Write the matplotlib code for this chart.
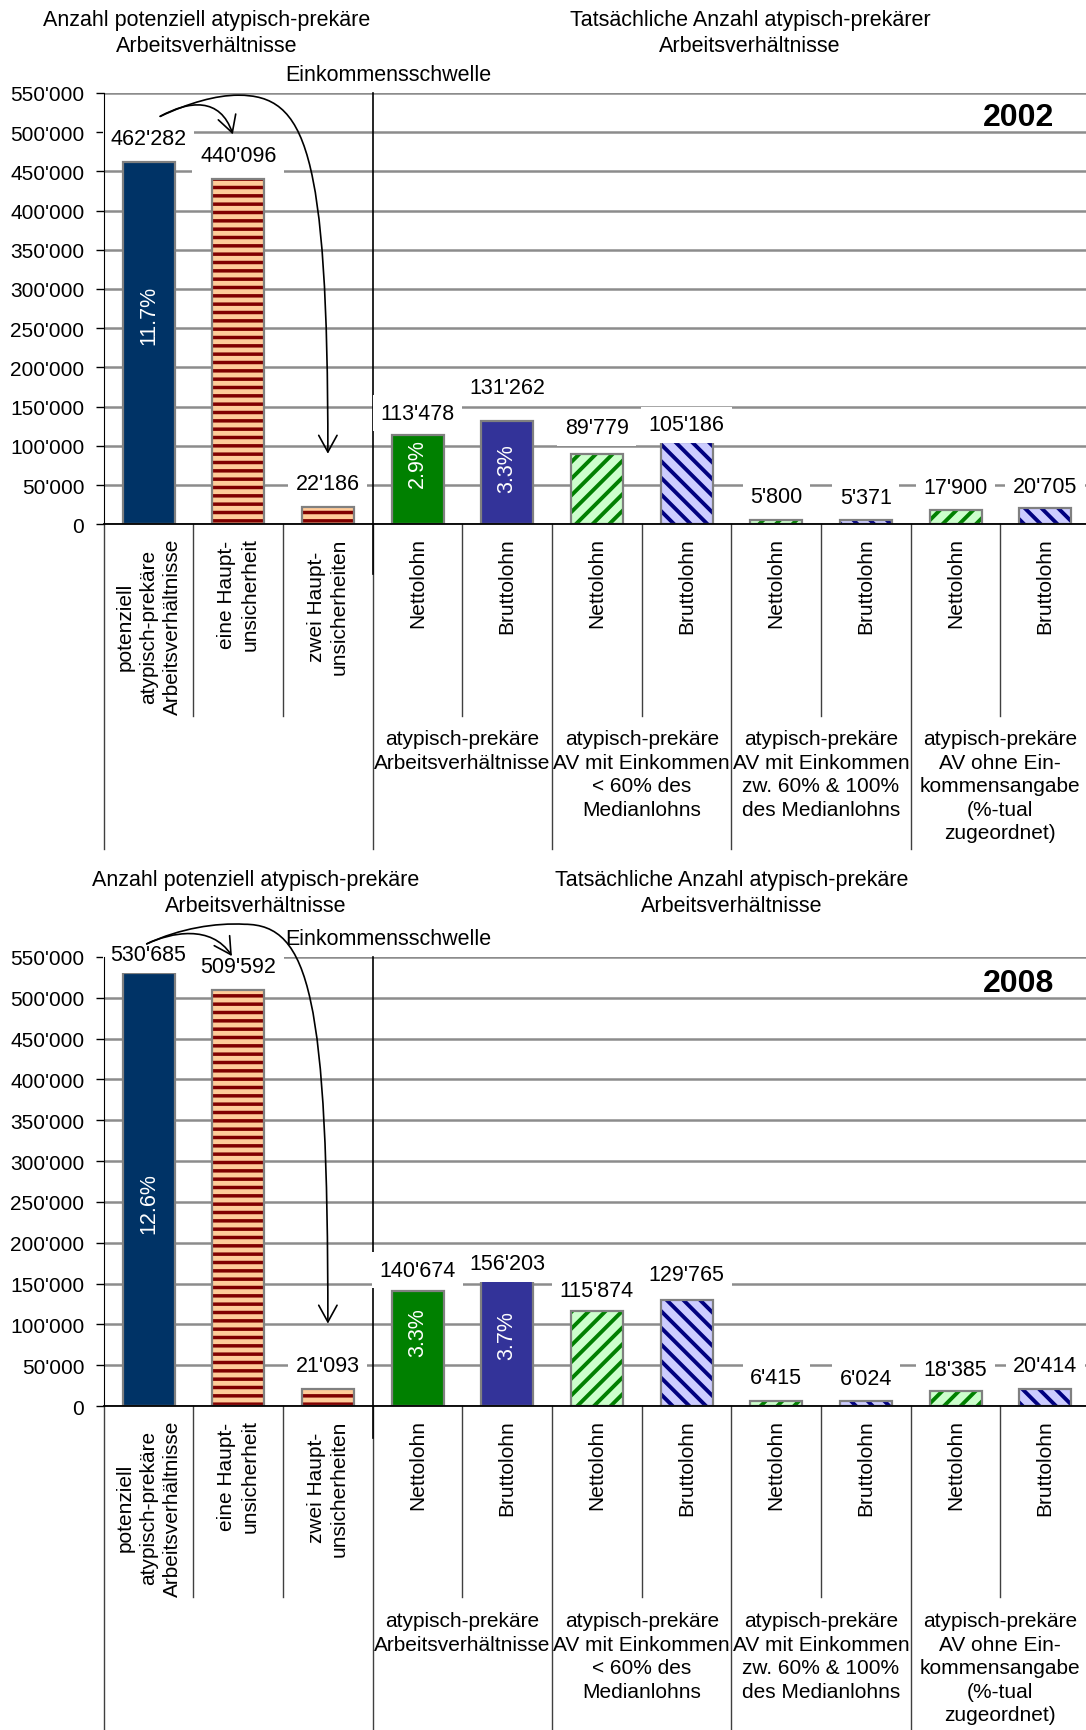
import matplotlib
matplotlib.use("Agg")
import matplotlib.pyplot as plt
from matplotlib.patches import FancyArrowPatch
from matplotlib.path import Path
from matplotlib.transforms import blended_transform_factory

plt.rcParams["font.family"] = ["Liberation Sans", "DejaVu Sans"]
plt.rcParams["font.size"] = 15
plt.rcParams["hatch.linewidth"] = 2.6

# categories along the x axis
categories = [
    "potenziell\natypisch-prekäre\nArbeitsverhältnisse",
    "eine Haupt-\nunsicherheit",
    "zwei Haupt-\nunsicherheiten",
    "Nettolohn", "Bruttolohn",
    "Nettolohn", "Bruttolohn",
    "Nettolohn", "Bruttolohn",
    "Nettolohn", "Bruttolohn",
]
groups = [
    "atypisch-prekäre\nArbeitsverhältnisse",
    "atypisch-prekäre\nAV mit Einkommen\n< 60% des\nMedianlohns",
    "atypisch-prekäre\nAV mit Einkommen\nzw. 60% & 100%\ndes Medianlohns",
    "atypisch-prekäre\nAV ohne Ein-\nkommensangabe\n(%-tual\nzugeordnet)",
]
group_centers = [3.5, 5.5, 7.5, 9.5]

values_2002 = [462282, 440096, 22186, 113478, 131262, 89779, 105186, 5800, 5371, 17900, 20705]
values_2008 = [530685, 509592, 21093, 140674, 156203, 115874, 129765, 6415, 6024, 18385, 20414]
shares_2002 = ["11.7%", "", "", "2.9%", "3.3%", "", "", "", "", "", ""]
shares_2008 = ["12.6%", "", "", "3.3%", "3.7%", "", "", "", "", "", ""]

bar_styles = ["navy", "stripes", "stripes", "green", "blue",
              "green_hatch", "blue_hatch", "green_hatch", "blue_hatch",
              "green_hatch", "blue_hatch"]
STYLES = {
    "navy": dict(face="#003366"),
    "stripes": dict(face="#FFCC99", hatch="--", hcolor="#800000", hlw=2.5),
    "green": dict(face="#008000"),
    "blue": dict(face="#333399"),
    "green_hatch": dict(face="#CCFFCC", hatch="//", hcolor="#008000", hlw=2.8),
    "blue_hatch": dict(face="#CCCCFF", hatch="\\\\", hcolor="#000080", hlw=2.8),
}
BAR_W = 0.58
GRID = "#8c8c8c"
SEP = "#404040"

panels = [
    dict(year="2002", values=values_2002, shares=shares_2002,
         rect=[0.0955, 0.6965, 0.9082, 0.2493],
         share_pos=[0.58, 0, 0, 0.69, 0.55, 0, 0, 0, 0, 0, 0],
         label_off=[23, 24, 23, 22, 34, 26, 17, 23, 23, 23, 22],
         title_left=("Anzahl potenziell atypisch-prekäre\nArbeitsverhältnisse", 0.65),
         title_right=("Tatsächliche Anzahl atypisch-prekärer\nArbeitsverhältnisse", 6.71),
         title_y=1.139, thresh_y=1.043, year_y=0.944, black_below=50,
         minor_len=192, group_len=325,
         big=[(0.13, 520e3), (0.45, 537e3), (0.75, 547e3), (1.0, 547e3),
              (1.75, 547e3), (2.0, 480e3), (2.0, 90e3)],
         small=[(0.13, 520e3), (0.45, 540e3), (0.8, 545e3), (0.94, 497e3)]),
    dict(year="2008", values=values_2008, shares=shares_2008,
         rect=[0.0955, 0.1871, 0.9082, 0.2595],
         share_pos=[0.47, 0, 0, 0.65, 0.56, 0, 0, 0, 0, 0, 0],
         label_off=[18, 23, 23, 21, 15, 21, 26, 23, 23, 22, 24],
         title_left=("Anzahl potenziell atypisch-prekäre\nArbeitsverhältnisse", 1.19),
         title_right=("Tatsächliche Anzahl atypisch-prekäre\nArbeitsverhältnisse", 6.50),
         title_y=1.144, thresh_y=1.042, year_y=0.943, black_below=32,
         minor_len=191, group_len=330,
         big=[(-0.02, 566e3), (0.35, 585e3), (0.75, 592e3), (1.07, 590e3),
              (1.8, 590e3), (2.0, 500e3), (2.0, 101e3)],
         small=[(-0.02, 566e3), (0.25, 580e3), (0.7, 590e3), (0.93, 551e3)]),
]


def fmt(v):
    return f"{int(v):,}".replace(",", "'")


def draw_bar(ax, x, h, style):
    st = STYLES[style]
    with plt.rc_context({"hatch.linewidth": st.get("hlw", 1.0)}):
        bars = ax.bar(x, h, width=BAR_W, color=st["face"], hatch=st.get("hatch"),
                      edgecolor=st.get("hcolor", st["face"]), linewidth=0, zorder=2)
    for b in bars:
        if hasattr(b, "set_hatch_linewidth"):
            b.set_hatch_linewidth(st.get("hlw", 1.0))
    ax.bar(x, h, width=BAR_W, fill=False, edgecolor="#808080", linewidth=1.6, zorder=3)


def curve(ax, pts, **kw):
    codes = [Path.MOVETO] + [Path.CURVE4] * (len(pts) - 1)
    arrow = FancyArrowPatch(path=Path(pts, codes),
                            arrowstyle="->,head_length=0.6,head_width=0.33",
                            mutation_scale=20, lw=1.2, color="black",
                            transform=ax.transData, clip_on=False, zorder=6, **kw)
    ax.add_patch(arrow)


fig = plt.figure(figsize=(10.86, 17.31), dpi=100)

for p in panels:
    ax = fig.add_axes(p["rect"])
    xs = list(range(len(categories)))
    for x, v, s in zip(xs, p["values"], bar_styles):
        draw_bar(ax, x, v, s)

    ax.set_xlim(-0.5, len(categories) - 0.5)
    ax.set_ylim(0, 550000)
    ax.set_yticks(range(0, 550001, 50000))
    ax.yaxis.set_major_formatter(plt.FuncFormatter(lambda v, _: fmt(v)))
    ax.set_xticks([])
    ax.tick_params(axis="y", direction="out", length=5.5, width=1, pad=8.5, labelsize=15)
    ax.yaxis.grid(True, color=GRID, linewidth=1.8)
    ax.set_axisbelow(True)
    for side in ("top", "right"):
        ax.spines[side].set_visible(False)
    for side in ("left", "bottom"):
        ax.spines[side].set_color("black")
        ax.spines[side].set_zorder(6)
    ax.spines["bottom"].set_linewidth(1.3)

    # value labels above the bars
    for x, v, off in zip(xs, p["values"], p["label_off"]):
        ax.annotate(fmt(v), xy=(x, v), xytext=(0, off), textcoords="offset pixels",
                    ha="center", va="center", fontsize=15.5, zorder=5,
                    bbox=dict(boxstyle="square,pad=0.35", fc="white", ec="none"))

    # shares printed inside the bars
    for x, v, s, f in zip(xs, p["values"], p["shares"], p["share_pos"]):
        if s:
            ax.text(x, v * f, s, rotation=90, color="white", ha="center",
                    va="center", fontsize=15.5, zorder=4)

    h_px = ax.get_position().height * fig.get_figheight() * fig.dpi
    xtr = blended_transform_factory(ax.transData, ax.transAxes)

    # category labels and separators below the axis
    for x, cat in zip(xs, categories):
        ax.annotate(cat, xy=(x, 0), xycoords=("data", "axes fraction"),
                    xytext=(0, -13), textcoords="offset pixels", rotation=90,
                    ha="center", va="top", multialignment="center",
                    linespacing=1.3, fontsize=15)
    group_edges = [-0.5, 2.5, 4.5, 6.5, 8.5]
    for b in [x - 0.5 for x in xs[1:]] + [-0.5]:
        length = p["group_len"] if b in group_edges else p["minor_len"]
        ax.plot([b, b], [0, -length / h_px], transform=xtr, color=SEP,
                lw=1.0, clip_on=False, zorder=1)
    for gx, g in zip(group_centers, groups):
        ax.annotate(g, xy=(gx, 0), xycoords=("data", "axes fraction"),
                    xytext=(0, -205), textcoords="offset pixels",
                    ha="center", va="top", multialignment="center",
                    linespacing=1.3, fontsize=15)

    # income threshold divider
    ax.plot([2.5, 2.5], [1.0, -p["black_below"] / h_px], transform=xtr,
            color="black", lw=1.2, clip_on=False, zorder=2.5)
    ax.text(2.67, p["thresh_y"], "Einkommensschwelle", transform=xtr,
            ha="center", va="center", fontsize=15.5)

    text, tx = p["title_left"]
    ax.text(tx, p["title_y"], text, transform=xtr, ha="center", va="center",
            multialignment="center", linespacing=1.3, fontsize=15.5)
    text, tx = p["title_right"]
    ax.text(tx, p["title_y"], text, transform=xtr, ha="center", va="center",
            multialignment="center", linespacing=1.3, fontsize=15.5)

    ax.text(10.1, p["year_y"], p["year"], transform=xtr, ha="right", va="center",
            fontsize=23, fontweight="bold", zorder=5)

    curve(ax, p["big"])
    curve(ax, p["small"])

fig.savefig("out.png", dpi=100, facecolor="white")
